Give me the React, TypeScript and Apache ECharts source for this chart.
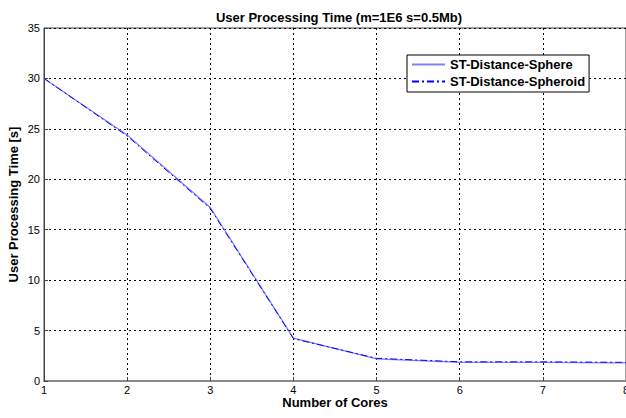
import React, { useEffect, useRef } from "react";
import * as echarts from "echarts";

const cores = [1, 2, 3, 4, 5, 6, 7, 8];
const sphere = [30.0, 24.4, 17.2, 4.25, 2.2, 1.85, 1.85, 1.8];
const spheroid = [30.0, 24.3, 17.1, 4.2, 2.25, 1.9, 1.9, 1.85];
const yTicks = [0, 5, 10, 15, 20, 25, 30, 35];

export default function App() {
  const ref = useRef<HTMLDivElement>(null);
  useEffect(() => {
    const chart = echarts.init(ref.current!, null, { renderer: "svg" });
    const font = "Liberation Sans, Arial, sans-serif";
    chart.setOption({
      animation: false,
      backgroundColor: "#ffffff",
      title: {
        text: "User Processing Time (m=1E6 s=0.5Mb)",
        left: 334,
        top: 6,
        textAlign: "center",
        textStyle: { fontFamily: font, fontSize: 13, fontWeight: "bold", color: "#000" },
      },
      legend: {
        orient: "vertical",
        left: 407,
        top: 55,
        padding: [3, 4, 4, 4],
        itemGap: 4,
        itemWidth: 33,
        itemHeight: 14,
        backgroundColor: "#fff",
        borderColor: "#000",
        borderWidth: 1,
        borderRadius: 0,
        itemStyle: { opacity: 0 },
        textStyle: { fontFamily: font, fontSize: 13, fontWeight: "bold", color: "#000" },
        data: ["ST-Distance-Sphere", "ST-Distance-Spheroid"],
      },
      grid: {
        left: 44,
        right: 0,
        top: 28,
        bottom: 37,
        containLabel: false,
        outerBoundsMode: "none",
        show: true,
        borderColor: "#444",
        borderWidth: 1,
        backgroundColor: "#fff",
      },
      xAxis: {
        type: "value",
        min: 1,
        max: 8,
        interval: 1,
        name: "Number of Cores",
        nameLocation: "middle",
        nameGap: 15,
        nameMoveOverlap: false,
        nameTextStyle: { fontFamily: font, fontSize: 13, fontWeight: "bold", color: "#000" },
        axisLine: { lineStyle: { color: "#888", width: 2 } },
        axisTick: { inside: true, length: 4, lineStyle: { color: "#444" } },
        axisLabel: { fontFamily: font, fontSize: 11, color: "#000", margin: 3, hideOverlap: false },
        splitLine: { show: true, lineStyle: { color: "#000", type: [2, 3], width: 1 } },
      },
      yAxis: {
        type: "value",
        min: 0,
        max: 35,
        interval: 5,
        name: "User Processing Time [s]",
        nameLocation: "middle",
        nameGap: 24,
        nameMoveOverlap: false,
        nameTextStyle: { fontFamily: font, fontSize: 13, fontWeight: "bold", color: "#000" },
        axisLine: { lineStyle: { color: "#444" } },
        axisTick: { inside: true, length: 4, lineStyle: { color: "#444" } },
        axisLabel: {
          fontFamily: font,
          fontSize: 11,
          color: "#000",
          margin: 4,
          formatter: (v: number) => (yTicks.includes(v) ? String(v) : ""),
        },
        splitLine: { show: true, lineStyle: { color: "#000", type: [2, 3], width: 1 } },
      },
      series: [
        {
          name: "ST-Distance-Sphere",
          type: "line",
          data: cores.map((c, i) => [c, sphere[i]]),
          symbol: "none",
          lineStyle: { color: "#8080ff", width: 1.2, type: "solid" },
          itemStyle: { color: "#8080ff" },
        },
        {
          name: "ST-Distance-Spheroid",
          type: "line",
          data: cores.map((c, i) => [c, spheroid[i]]),
          symbol: "none",
          lineStyle: { color: "#0000ff", width: 1, type: [7, 3, 2, 3] },
          itemStyle: { color: "#0000ff" },
        },
      ],
    });
    return () => chart.dispose();
  }, []);
  return <div ref={ref} style={{ width: 626, height: 418, position: "absolute", left: 0, top: 0 }} />;
}
